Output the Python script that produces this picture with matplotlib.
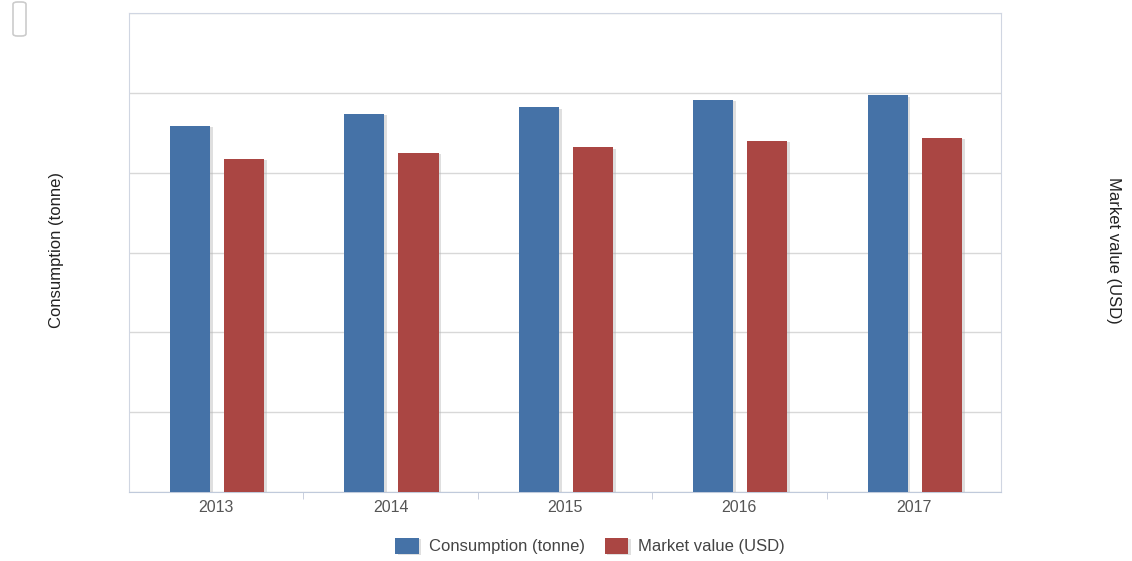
import numpy as np
import matplotlib.pyplot as plt
import matplotlib.patheffects as pe
from matplotlib.patches import FancyBboxPatch

years = ['2013', '2014', '2015', '2016', '2017']
consumption = [4.59, 4.74, 4.82, 4.91, 4.97]
market_value = [4.17, 4.25, 4.32, 4.40, 4.44]

plt.rcParams['font.family'] = ['Liberation Sans', 'DejaVu Sans']

fig = plt.figure(figsize=(11.32, 5.61), dpi=100)
ax = fig.add_axes([129/1132, 69/561, 872/1132, 479/561])

x = np.arange(len(years))
w = 0.23
shadow = [pe.SimplePatchShadow(offset=(2, -1), shadow_rgbFace='#b0b0b0', alpha=0.4), pe.Normal()]
b1 = ax.bar(x - 0.15, consumption, w, color='#4572A7', label='Consumption (tonne)', zorder=3)
b2 = ax.bar(x + 0.16, market_value, w, color='#AA4643', label='Market value (USD)', zorder=3)
for b in list(b1) + list(b2):
    b.set_path_effects(shadow)

ax.set_xlim(-0.5, len(years) - 0.5)
ax.set_ylim(0, 6)
ax.set_yticks(np.arange(0, 7, 1))
ax.set_yticklabels([])
ax.tick_params(axis='y', length=0)
ax.grid(axis='y', color='#d8d8d8', linewidth=1, zorder=0)
ax.set_xticks(x)
ax.set_xticklabels(years, color='#555555', fontsize=11.5)
ax.set_xticks(np.arange(0.5, len(years) - 0.5, 1), minor=True)
ax.tick_params(axis='x', which='major', length=0, pad=6)
ax.tick_params(axis='x', which='minor', length=5, color='#c0c8d8')
for s in ax.spines.values():
    s.set_color('#d0d6e2')
ax.spines['bottom'].set_color('#c0cadb')

# axis titles placed in figure pixels
fig.text(57/1132, 1 - 250/561, 'Consumption (tonne)', rotation=90, ha='center', va='center',
         fontsize=12, color='#222222')
fig.text(1113/1132, 1 - 250/561, 'Market value (USD)', rotation=270, ha='center', va='center',
         fontsize=12, color='#222222')

fig.legend(handles=[b1, b2], loc='center', bbox_to_anchor=(590/1132, 1 - 546/561), ncol=2,
           frameon=False, fontsize=12, handlelength=1.4, handleheight=1.1, columnspacing=1.2,
           handletextpad=0.6, labelcolor='#444444')

btn = FancyBboxPatch((13/1132, 1 - 36/561), 13/1132, 34/561, boxstyle='round,pad=0,rounding_size=0.004',
                     transform=fig.transFigure, facecolor='white', edgecolor='#cccccc', linewidth=1.2)
fig.patches.append(btn)

fig.savefig('out.png', dpi=100)
